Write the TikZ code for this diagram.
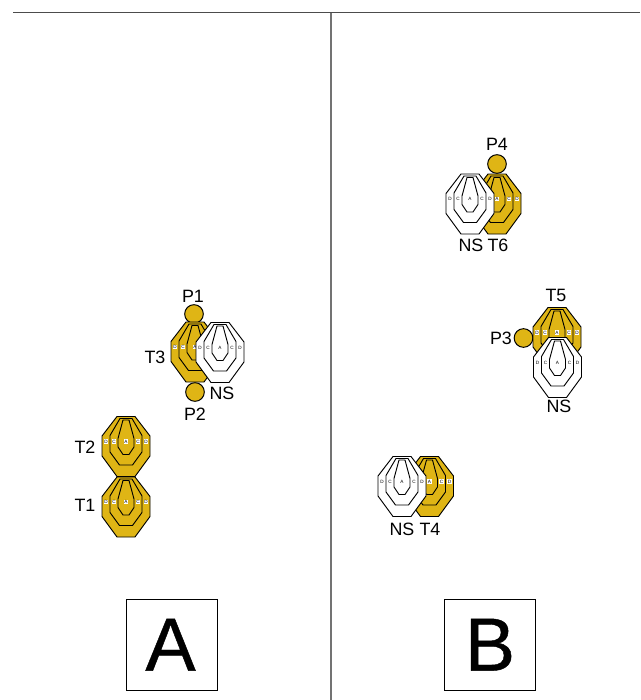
\documentclass[tikz,border=0pt]{standalone}
\usepackage{fontspec}
\setmainfont{Liberation Sans}
\newfontfamily\heavyfont[FakeBold=0.6]{Liberation Sans}
\definecolor{gold}{HTML}{DFB515}
\tikzset{
  x=0.75pt,y=-0.75pt,
  ring/.style={draw=black,line width=0.7pt,line join=miter},
  lab/.style={font=\fontsize{13.4}{14}\selectfont,inner sep=0pt,anchor=center},
  tick/.style={font=\fontsize{3.5}{3.8}\selectfont,inner sep=0.35pt,fill=white},
  disc/.style={circle,draw=black,fill=gold,line width=0.75pt,minimum size=14pt,inner sep=0pt},
  bigbox/.style={draw=black,line width=0.75pt,minimum size=68.4pt,inner sep=0pt,font=\heavyfont\fontsize{56.5}{60}\selectfont},
}
\newcommand{\targetshape}[3]{% x, y, fill
  \begin{scope}[shift={(#1,#2)}]
    \draw[ring,fill=#3] (-9,-30)--(9,-30)--(24,-10.5)--(24,9.5)--(9,30)--(-9,30)--(-24,9.5)--(-24,-10.5)--cycle;
    \draw[ring] (-6,-28)--(6,-28)--(16,-11)--(16,5.5)--(6.5,18.5)--(-6.5,18.5)--(-16,5.5)--(-16,-11)--cycle;
    \draw[ring] (-3,-26.5)--(3,-26.5)--(8,-8)--(8,0.5)--(3,8)--(-3,8)--(-8,0.5)--(-8,-8)--cycle;
    \node[tick] at (-20,-5) {D};
    \node[tick] at (-12,-5) {C};
    \node[tick] at (0,-5) {A};
    \node[tick] at (12,-5) {C};
    \node[tick] at (20,-5) {D};
  \end{scope}}
\begin{document}
\begin{tikzpicture}
\useasboundingbox (0,0) rectangle (640,700);
\coordinate (hl) at (13,12.5);
\coordinate (hr) at (640,12.5);
\coordinate (vt) at (330.7,12.5);
\coordinate (vb) at (330.7,700);
\draw[line width=0.9pt,draw=black!70] (hl) -- (hr);
\draw[line width=1.2pt,draw=black!55] (vt) -- (vb);
% left panel
\node[disc] (p1) at (194,314) {};
\node[disc] (p2) at (195,392) {};
\targetshape{126}{446.5}{gold}
\targetshape{126}{507}{gold}
\targetshape{195}{352}{gold}
\targetshape{220}{352.5}{white}
% right panel
\node[disc] (p4) at (497,164) {};
\targetshape{497}{204}{gold}
\targetshape{470}{204}{white}
\node[disc] (p3) at (523.5,338) {};
\targetshape{557}{337.5}{gold}
\targetshape{557.5}{367.5}{white}
\targetshape{429.5}{486.5}{gold}
\targetshape{402}{486.5}{white}
% labels
\node[lab] (lp1) at (193,296) {P1};
\node[lab] (lt3) at (155,357) {T3};
\node[lab] (lp2) at (195,414) {P2};
\node[lab] (lns1) at (222,393) {NS};
\node[lab] (lt2) at (85,447) {T2};
\node[lab] (lt1) at (85,505) {T1};
\node[lab] (lp4) at (497,144) {P4};
\node[lab] (lns2) at (471,245) {NS};
\node[lab] (lt6) at (498,245) {T6};
\node[lab] (lt5) at (556,295) {T5};
\node[lab] (lp3) at (501,338) {P3};
\node[lab] (lns3) at (559,406) {NS};
\node[lab] (lns4) at (402,529) {NS};
\node[lab] (lt4) at (430,529) {T4};
\node[bigbox] (boxa) at (172,644.7) {A\kern2.2pt};
\node[bigbox] (boxb) at (490,644.7) {B};
\end{tikzpicture}
\end{document}
